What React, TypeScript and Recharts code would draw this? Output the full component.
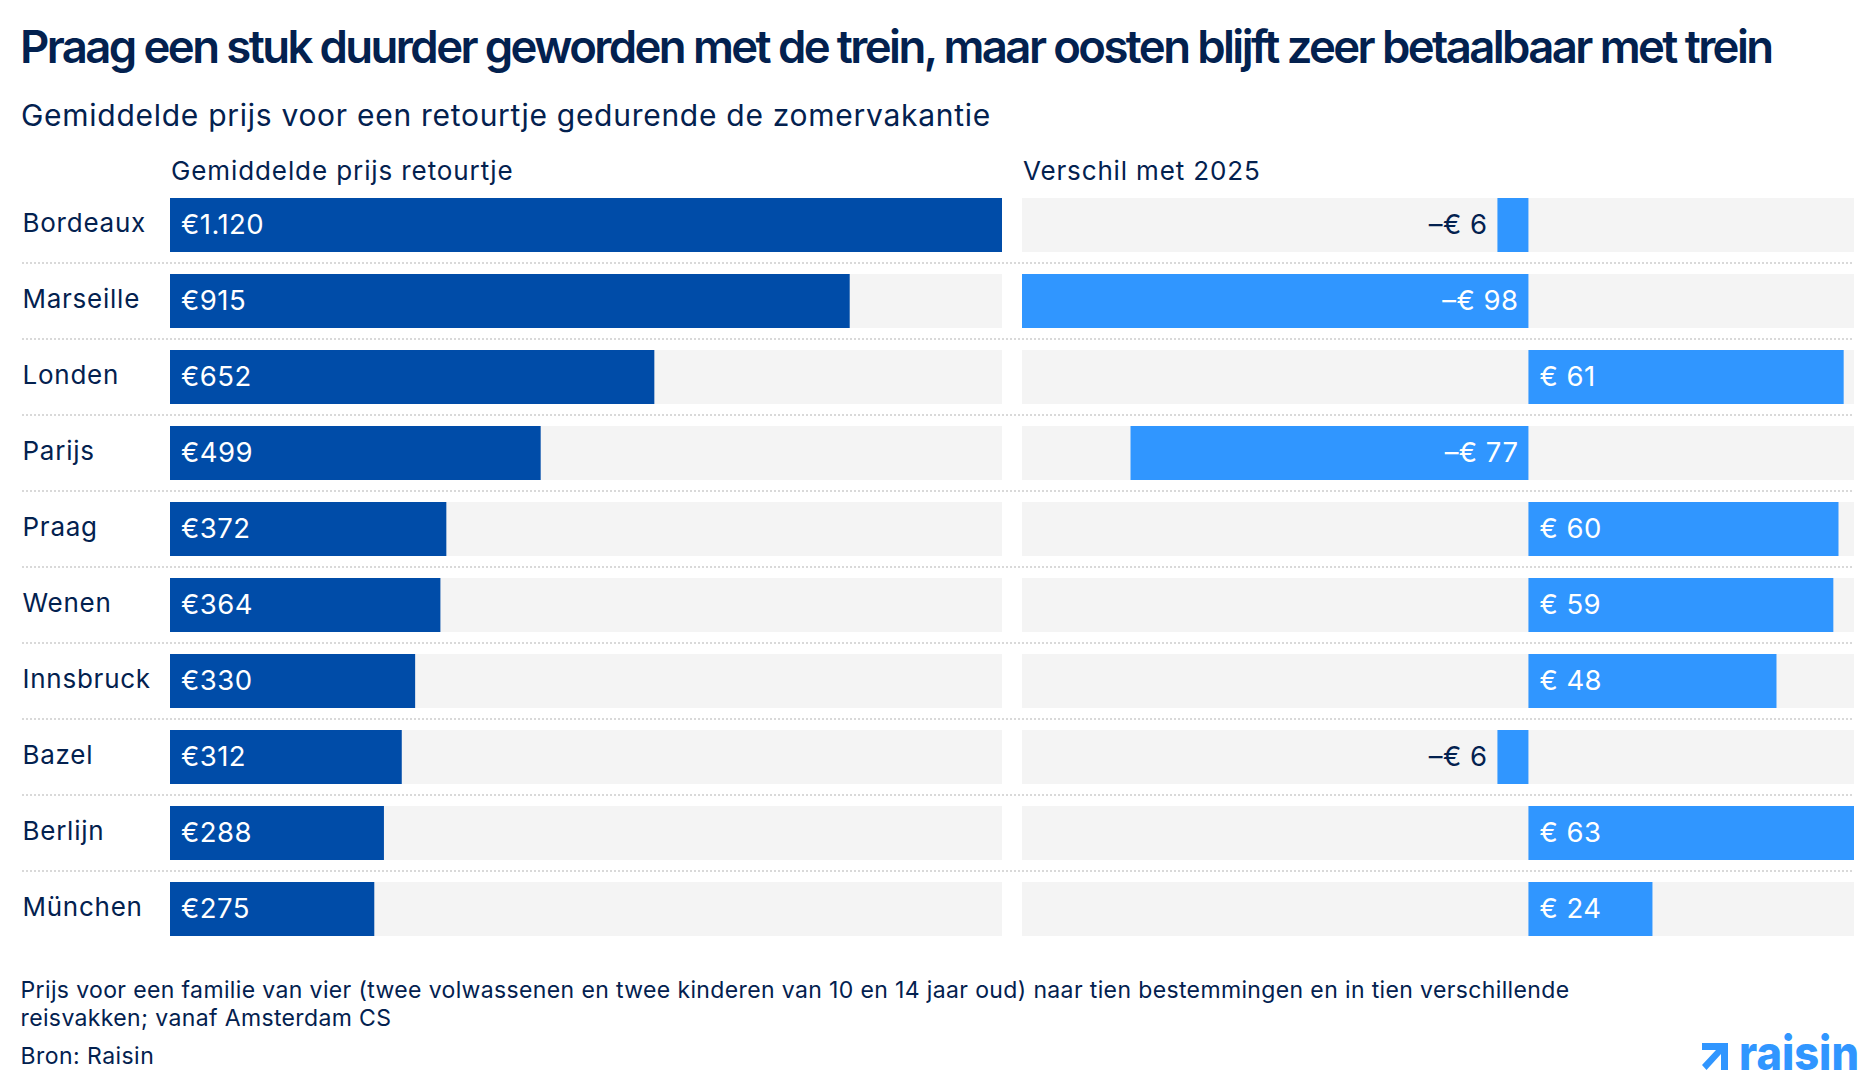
import { BarChart, Bar, XAxis, YAxis, LabelList } from 'recharts';

const cities = ['Bordeaux', 'Marseille', 'Londen', 'Parijs', 'Praag', 'Wenen', 'Innsbruck', 'Bazel', 'Berlijn', 'München'];
const prices = [1120, 915, 652, 499, 372, 364, 330, 312, 288, 275];
const changes = [-6, -98, 61, -77, 60, 59, 48, -6, 63, 24];

const rows = cities.map((city, i) => ({ city, price: prices[i], change: changes[i] }));

const NAVY = '#03214f';
const DARK_BLUE = '#004ca8';
const LIGHT_BLUE = '#3096ff';
const TRACK = '#f4f4f4';
const FONT = 'Inter, sans-serif';

const ROW_H = 76;
const CHART_TOP = 187;
const CHART_H = ROW_H * cities.length;

const labelText = { fontFamily: FONT, fontSize: 27.5, letterSpacing: 0.45 };

function CityTick({ y, payload }: any) {
  return (
    <text x={22.5} y={y - 2} dy="0.36em" fill={NAVY} style={{ fontFamily: FONT, fontSize: 26, letterSpacing: 0.75 }}>
      {payload.value}
    </text>
  );
}

function PriceLabel({ x, y, height, value }: any) {
  const txt = '€' + (value >= 1000 ? value.toLocaleString('de-DE') : value);
  return (
    <text x={x + 11} y={y + height / 2 - 1} dy="0.36em" fill="#fff" style={labelText}>
      {txt}
    </text>
  );
}

function ChangeLabel({ x, y, width, height, value }: any) {
  const cy = y + height / 2 - 1;
  if (value >= 0) {
    return (
      <text x={x + 11} y={cy} dy="0.36em" fill="#fff" style={labelText}>
        € {value}
      </text>
    );
  }
  const left = Math.min(x, x + width);
  const right = Math.max(x, x + width);
  const outside = Math.abs(value) < 20;
  return (
    <text
      x={outside ? left - 10 : right - 10}
      y={cy}
      dy="0.36em"
      textAnchor="end"
      fill={outside ? NAVY : '#fff'}
      style={labelText}
    >
      –€ {Math.abs(value)}
    </text>
  );
}

function Line({ top, left, size, weight, spacing, children }: any) {
  return (
    <div
      style={{
        position: 'absolute', top, left, fontFamily: FONT, fontSize: size, fontWeight: weight ?? 400,
        letterSpacing: spacing ?? 0, color: NAVY, whiteSpace: 'nowrap', lineHeight: 1.2,
      }}
    >
      {children}
    </div>
  );
}

export default function App() {
  return (
    <div style={{ position: 'absolute', left: 0, top: 0, width: 1876, height: 1090, background: '#fff', overflow: 'hidden' }}>
      <Line top={20} left={20} size={45.5} weight={600} spacing={-2.6}>
        Praag een stuk duurder geworden met de trein, maar oosten blijft zeer betaalbaar met trein
      </Line>
      <Line top={97} left={21} size={30} spacing={0.72}>Gemiddelde prijs voor een retourtje gedurende de zomervakantie</Line>
      <Line top={155} left={171} size={26} spacing={0.9}>Gemiddelde prijs retourtje</Line>
      <Line top={155} left={1023} size={26} spacing={0.85}>Verschil met 2025</Line>

      <svg width={1876} height={1090} style={{ position: 'absolute', left: 0, top: 0 }}>
        {cities.slice(1).map((c, i) => (
          <line
            key={c}
            x1={22}
            x2={1854}
            y1={CHART_TOP + ROW_H * (i + 1)}
            y2={CHART_TOP + ROW_H * (i + 1)}
            stroke="#d9d9d9"
            strokeWidth={2}
            strokeDasharray="2 2"
          />
        ))}
      </svg>

      <div style={{ position: 'absolute', left: 0, top: CHART_TOP }}>
        <BarChart width={1002} height={CHART_H} layout="vertical" data={rows} margin={{ top: 0, right: 0, bottom: 0, left: 22 }}>
          <XAxis type="number" hide domain={[0, 1120]} />
          <YAxis type="category" dataKey="city" width={148} interval={0} axisLine={false} tickLine={false} tick={<CityTick />} />
          <Bar dataKey="price" fill={DARK_BLUE} barSize={54} background={{ fill: TRACK }} isAnimationActive={false}>
            <LabelList dataKey="price" content={<PriceLabel />} />
          </Bar>
        </BarChart>
      </div>

      <div style={{ position: 'absolute', left: 1022, top: CHART_TOP }}>
        <BarChart width={832} height={CHART_H} layout="vertical" data={rows} margin={{ top: 0, right: 0, bottom: 0, left: 0 }}>
          <XAxis type="number" hide domain={[-98, 63]} />
          <YAxis type="category" dataKey="city" hide />
          <Bar dataKey="change" fill={LIGHT_BLUE} barSize={54} background={{ fill: TRACK }} isAnimationActive={false}>
            <LabelList dataKey="change" content={<ChangeLabel />} />
          </Bar>
        </BarChart>
      </div>

      <Line top={977} left={20.5} size={23} spacing={0.37}>
        Prijs voor een familie van vier (twee volwassenen en twee kinderen van 10 en 14 jaar oud) naar tien bestemmingen en in tien verschillende
      </Line>
      <Line top={1005} left={20.5} size={23} spacing={0.37}>reisvakken; vanaf Amsterdam CS</Line>
      <Line top={1043} left={20.5} size={23} spacing={0.45}>Bron: Raisin</Line>

      <svg width={1876} height={1090} style={{ position: 'absolute', left: 0, top: 0 }}>
        <path d="M1702 1043H1728V1070H1721V1054L1706.500 1070L1702 1065L1716 1050H1702Z" fill={LIGHT_BLUE} />
        <text x={1739} y={1070} fill={LIGHT_BLUE} textLength={120} lengthAdjust="spacingAndGlyphs" style={{ fontFamily: FONT, fontSize: 48, fontWeight: 800 }}>
          raisin
        </text>
      </svg>
    </div>
  );
}
